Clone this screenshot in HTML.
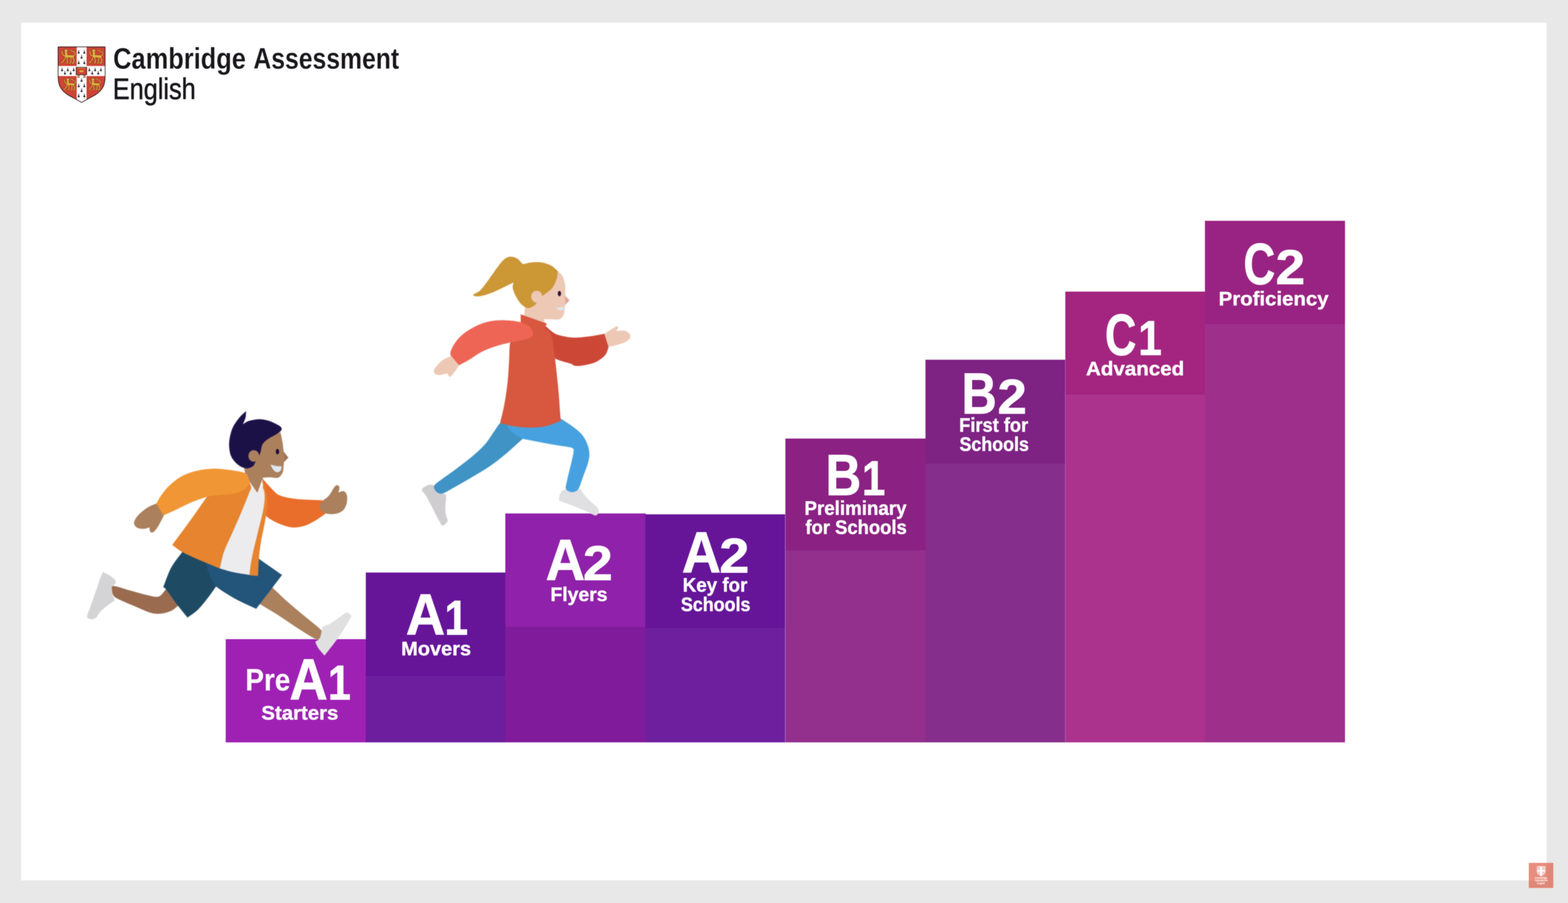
<!DOCTYPE html>
<html lang="en">
<head>
<meta charset="utf-8">
<title>Cambridge Assessment English</title>
<style>
html,body{margin:0;padding:0;width:100%;height:100%;background:#e8e8e8;overflow:hidden;}
svg{position:absolute;left:0;top:0;width:100vw;height:100vh;display:block;font-family:"Liberation Sans",sans-serif;}
text{white-space:pre;}
</style>
</head>
<body>
<svg viewBox="0 0 5120 2880" preserveAspectRatio="none">
<defs>
<filter id="softA" x="0" y="0" width="5120" height="2880" filterUnits="userSpaceOnUse" color-interpolation-filters="sRGB"><feGaussianBlur stdDeviation="1.2"/></filter>
<filter id="softB" x="180" y="760" width="2000" height="1500" filterUnits="userSpaceOnUse" color-interpolation-filters="sRGB"><feGaussianBlur stdDeviation="1.6"/></filter>
<filter id="softC" x="150" y="110" width="1250" height="270" filterUnits="userSpaceOnUse" color-interpolation-filters="sRGB"><feGaussianBlur stdDeviation="1.0"/></filter>
</defs>
<rect x="0" y="0" width="5120" height="2880" fill="#e8e8e8"/>
<g filter="url(#softA)">
<rect x="-20" y="-20" width="5160" height="2920" fill="#e8e8e8"/>
<rect x="69" y="71.8" width="4981.5" height="2736" fill="#ffffff"/>
<g id="bars">
<rect x="737.0" y="2038.5" width="459.0" height="329.2" fill="#9e21b4"/>
<rect x="1194.5" y="2155.0" width="457.0" height="212.7" fill="#6c1e9e"/>
<rect x="1194.5" y="1826.0" width="457.0" height="330.0" fill="#661599"/>
<rect x="1650.0" y="1998.4" width="458.5" height="369.3" fill="#801c9b"/>
<rect x="1650.0" y="1637.6" width="458.5" height="361.8" fill="#9021aa"/>
<rect x="2107.0" y="2002.0" width="459.0" height="365.7" fill="#6e1f9e"/>
<rect x="2107.0" y="1640.4" width="459.0" height="362.6" fill="#661599"/>
<rect x="2564.5" y="1754.4" width="459.0" height="613.3" fill="#93308d"/>
<rect x="2564.5" y="1398.7" width="459.0" height="356.7" fill="#8b2183"/>
<rect x="3022.0" y="1477.4" width="458.0" height="890.3" fill="#862e8c"/>
<rect x="3022.0" y="1147.3" width="458.0" height="331.1" fill="#7e2284"/>
<rect x="3478.5" y="1257.7" width="457.5" height="1110.0" fill="#ab338d"/>
<rect x="3478.5" y="930.0" width="457.5" height="328.7" fill="#a32580"/>
<rect x="3934.5" y="1033.0" width="457.3" height="1334.7" fill="#9e308c"/>
<rect x="3934.5" y="704.2" width="457.3" height="329.8" fill="#992382"/>
<rect x="2563" y="1641" width="2.4" height="726.7" fill="#c07fd0" fill-opacity="0.75"/>
<rect x="3477.3" y="1148" width="2.4" height="1219.7" fill="#c870c0" fill-opacity="0.6"/>
</g>
</g>
<g filter="url(#softB)">
<g id="boy">
<path d="M336.3 1824.2C345.5 1829.1 356.8 1833.8 363.9 1839.0C370.9 1844.2 377.5 1849.9 378.4 1855.2C379.2 1860.5 371.3 1865.3 369.0 1870.8C366.7 1876.2 363.6 1880.5 364.6 1888.0C365.5 1895.5 371.5 1906.4 374.9 1915.6C366.0 1921.4 356.4 1926.8 348.3 1932.9C340.3 1938.9 332.5 1945.5 326.6 1951.9C320.7 1958.2 317.5 1967.0 312.8 1970.8C308.1 1974.7 303.0 1975.5 298.3 1975.0C293.6 1974.4 285.1 1973.8 284.5 1967.4C283.9 1960.9 290.3 1949.6 294.9 1936.3C299.5 1923.1 306.6 1903.5 312.1 1888.0C317.6 1872.5 323.6 1853.8 327.6 1843.2C331.7 1832.5 333.4 1830.5 336.3 1824.2Z" fill="#d4d4d6"/>
<path d="M365.6 1882.8C365.7 1877.7 362.0 1869.0 371.5 1869.0C380.9 1869.0 405.4 1878.2 422.5 1882.8C439.7 1887.4 459.9 1893.2 474.3 1896.6C488.7 1900.1 500.4 1903.1 508.8 1903.5C517.1 1903.9 518.8 1903.1 524.3 1899.1C529.8 1895.0 535.8 1885.9 541.6 1879.4C554.8 1874.2 568.0 1869.0 581.2 1863.9C590.4 1881.1 599.6 1898.4 608.8 1915.6C599.6 1921.1 589.3 1926.9 581.2 1932.2C573.2 1937.5 569.7 1943.2 560.5 1947.4C551.3 1951.5 537.5 1955.9 526.0 1957.0C514.5 1958.2 505.9 1958.2 491.5 1954.3C477.2 1950.4 457.0 1940.7 439.8 1933.6C422.5 1926.4 399.5 1917.1 388.0 1911.5C376.5 1905.9 374.5 1904.9 370.8 1900.1C367.0 1895.3 365.5 1888.0 365.6 1882.8Z" fill="#9a6b4f"/>
<path d="M595.0 1760.4C583.0 1777.0 569.2 1791.7 558.8 1810.4C548.5 1829.1 541.6 1851.8 532.9 1872.5C536.4 1875.4 535.8 1871.9 543.3 1881.1C550.8 1890.3 566.3 1912.9 577.8 1927.7C589.3 1942.5 600.8 1955.8 612.3 1969.8C623.8 1961.2 635.3 1955.0 646.8 1943.9C658.3 1932.9 671.0 1916.6 681.3 1903.5C691.7 1890.5 699.7 1878.2 708.9 1865.6C717.0 1844.3 725.0 1823.0 733.1 1801.8C698.6 1779.9 664.1 1758.1 629.5 1736.2C618.0 1744.2 606.5 1752.3 595.0 1760.4Z" fill="#1f4a63"/>
<path d="M862.2 1850.1C871.9 1858.7 878.3 1864.0 891.5 1875.9C904.7 1887.8 924.6 1906.8 941.5 1921.5C958.5 1936.2 976.0 1949.8 993.3 1963.9C1010.5 1978.0 1035.0 1996.2 1045.0 2006.0C1055.1 2015.8 1053.0 2018.0 1053.7 2022.6C1054.4 2027.2 1052.6 2030.9 1049.2 2033.6C1045.7 2036.4 1045.2 2043.7 1033.0 2039.1C1020.8 2034.5 997.0 2019.0 976.0 2006.0C955.0 1993.0 928.2 1974.4 907.0 1961.2C885.9 1947.9 864.0 1936.0 849.1 1926.7C834.1 1917.3 827.9 1912.4 817.3 1905.3C832.3 1886.9 847.2 1868.5 862.2 1850.1Z" fill="#ab805d"/>
<path d="M1133.0 1953.6C1138.8 1953.5 1143.4 1960.5 1148.6 1963.9C1141.7 1975.7 1136.5 1985.8 1127.9 1999.1C1119.2 2012.5 1108.2 2028.7 1096.8 2044.0C1085.4 2059.3 1072.0 2075.3 1059.5 2090.9C1053.0 2083.3 1044.9 2075.4 1039.9 2068.1C1034.9 2060.9 1033.0 2054.3 1029.5 2047.4C1034.7 2042.8 1041.2 2041.7 1045.0 2033.6C1048.9 2025.6 1050.1 2010.6 1052.6 1999.1C1061.6 1995.4 1069.3 1993.8 1079.5 1988.1C1089.8 1982.3 1105.1 1970.4 1114.1 1964.6C1123.0 1958.9 1127.3 1953.7 1133.0 1953.6Z" fill="#e0e0e1"/>
<path d="M672.6 1791.6C685.2 1785.8 697.9 1780.1 710.5 1774.3C750.8 1769.7 791.0 1765.1 831.3 1760.5C835.9 1767.7 840.5 1774.8 845.1 1781.9C870.4 1799.2 895.7 1816.4 921.0 1833.7C892.8 1869.7 864.7 1905.7 836.5 1941.7C817.5 1933.1 797.1 1924.7 779.5 1915.8C762.0 1906.9 743.9 1896.0 731.2 1888.2C718.6 1880.4 712.8 1875.6 703.6 1869.2C698.5 1860.6 692.4 1852.3 688.1 1843.4C683.8 1834.4 680.3 1824.4 677.8 1815.7C675.2 1807.1 674.3 1799.6 672.6 1791.6Z" fill="#235479"/>
<path d="M857.0 1525.7C866.2 1535.8 875.4 1547.1 884.6 1556.0C893.8 1565.0 899.6 1573.7 912.2 1579.5C924.9 1585.2 943.9 1588.1 960.5 1590.5C977.2 1593.0 996.7 1593.1 1012.3 1594.0C1027.9 1594.9 1040.4 1595.1 1054.4 1595.7C1057.0 1610.1 1059.7 1624.5 1062.3 1638.8C1051.4 1646.0 1040.8 1653.9 1029.5 1660.2C1018.3 1666.6 1007.7 1673.1 995.0 1676.8C982.4 1680.5 967.4 1683.4 953.6 1682.3C939.8 1681.3 923.7 1674.8 912.2 1670.6C900.7 1666.3 892.7 1661.5 884.6 1656.8C876.6 1652.1 870.8 1647.1 863.9 1642.3C861.6 1603.4 859.3 1564.5 857.0 1525.7Z" fill="#e96d2b"/>
<path d="M1053.0 1598.1C1058.0 1593.0 1068.3 1587.2 1074.4 1580.2C1080.6 1573.2 1085.8 1561.5 1089.9 1556.0C1094.1 1550.6 1096.2 1547.9 1099.2 1547.4C1102.3 1546.9 1107.2 1549.4 1108.2 1553.3C1109.3 1557.1 1106.4 1564.8 1105.5 1570.5C1111.2 1569.1 1118.1 1564.7 1122.7 1566.4C1127.3 1568.1 1131.6 1574.0 1133.1 1580.9C1134.5 1587.8 1133.6 1599.9 1131.3 1607.8C1129.0 1615.7 1125.3 1623.3 1119.3 1628.5C1113.2 1633.7 1104.3 1637.3 1095.1 1638.8C1085.9 1640.4 1072.0 1640.0 1064.1 1637.8C1056.1 1635.6 1050.8 1630.2 1047.5 1625.7C1044.2 1621.3 1043.5 1615.8 1044.4 1611.2C1045.3 1606.6 1048.0 1603.3 1053.0 1598.1Z" fill="#ab805d"/>
<path d="M796.6 1493.9C807.6 1487.0 820.5 1483.6 829.4 1473.2C838.3 1462.9 843.2 1443.9 850.1 1431.8C857.0 1419.7 859.9 1409.7 870.8 1400.8C881.8 1391.9 900.7 1385.8 915.7 1378.3C918.0 1389.3 920.9 1400.9 922.6 1411.1C924.3 1421.3 924.9 1430.0 926.0 1439.4C931.2 1446.1 936.4 1452.8 941.6 1459.4C937.1 1464.0 930.7 1468.5 928.1 1473.2C925.5 1477.9 927.0 1482.0 926.0 1487.7C925.1 1493.5 925.6 1501.7 922.6 1507.7C919.6 1513.7 914.9 1521.2 908.1 1523.6C901.3 1526.0 890.1 1522.2 881.9 1522.2C873.6 1522.2 866.5 1523.1 858.8 1523.6C852.7 1539.9 846.6 1556.3 840.5 1572.6C829.3 1556.2 814.3 1536.4 807.0 1523.3C799.7 1510.1 800.1 1503.7 796.6 1493.9Z" fill="#ab805d"/>
<path d="M819.2 1548.3C826.1 1556.0 833.0 1563.7 839.9 1571.5C845.3 1563.7 850.7 1556.0 856.1 1548.3C859.4 1559.3 864.8 1567.6 865.8 1581.1C866.8 1594.6 865.5 1609.9 862.4 1629.4C859.2 1649.0 852.3 1673.7 846.8 1698.4C841.4 1723.2 833.3 1755.0 829.6 1777.8C825.8 1800.6 826.1 1816.0 824.4 1835.1C803.7 1831.7 780.1 1828.7 762.3 1825.1C744.5 1821.4 732.4 1817.0 717.4 1813.0C722.0 1795.5 723.8 1780.8 731.2 1760.5C738.7 1740.3 752.5 1713.4 762.3 1691.5C772.1 1669.7 781.3 1649.6 789.9 1629.4C798.5 1609.3 809.2 1584.3 814.1 1570.8C818.9 1557.3 817.5 1555.8 819.2 1548.3Z" fill="#ececee"/>
<path d="M856.1 1532.8C859.4 1539.7 862.9 1541.4 865.8 1553.5C868.7 1565.6 873.3 1588.0 873.4 1605.3C873.5 1622.5 869.9 1636.9 866.5 1657.0C863.0 1677.2 856.1 1705.9 852.7 1726.0C849.2 1746.2 847.5 1759.3 845.8 1777.8C844.1 1796.3 843.5 1817.4 842.3 1837.1C832.9 1836.2 823.5 1835.3 814.1 1834.4C816.9 1815.5 818.1 1800.4 822.7 1777.8C827.3 1755.1 835.6 1723.2 841.7 1698.4C847.7 1673.7 855.2 1649.0 858.9 1629.4C862.6 1609.9 864.5 1597.2 864.1 1581.1C863.6 1565.0 858.8 1548.9 856.1 1532.8Z" fill="#e6842f"/>
<path d="M676.0 1583.9C693.3 1573.8 707.1 1566.0 727.8 1553.5C748.5 1541.0 776.1 1523.6 800.3 1508.7C806.6 1522.5 816.9 1539.7 819.2 1550.1C821.5 1560.4 818.9 1557.5 814.1 1570.8C809.2 1584.0 798.5 1609.3 789.9 1629.4C781.3 1649.6 772.1 1669.7 762.3 1691.5C752.5 1713.4 738.7 1740.3 731.2 1760.5C723.8 1780.8 722.0 1795.5 717.4 1813.0C692.1 1802.6 662.2 1790.8 641.5 1781.9C620.8 1773.0 606.5 1766.8 593.2 1759.5C580.0 1752.2 572.5 1745.2 562.2 1738.1C581.7 1712.2 601.9 1686.2 620.8 1660.5C639.8 1634.8 657.6 1609.4 676.0 1583.9Z" fill="#e6842f"/>
<path d="M524.2 1601.8C512.7 1606.0 500.1 1609.1 489.7 1614.2C479.4 1619.4 469.9 1626.3 462.1 1632.9C454.3 1639.4 447.2 1647.3 443.1 1653.6C439.1 1659.9 437.1 1665.9 438.0 1670.8C438.8 1675.8 443.1 1680.6 448.3 1683.2C453.5 1685.9 462.4 1686.9 469.0 1686.7C475.6 1686.5 481.7 1683.5 488.0 1681.9C488.8 1686.5 488.3 1693.1 490.4 1695.7C492.5 1698.2 496.7 1699.5 500.8 1697.1C504.8 1694.6 510.0 1687.9 514.6 1681.2C519.2 1674.5 524.9 1663.4 528.4 1657.0C531.8 1650.7 533.1 1647.8 535.3 1643.2C537.4 1638.6 539.4 1634.0 541.5 1629.4C535.7 1620.2 530.0 1611.0 524.2 1601.8Z" fill="#ab805d"/>
<path d="M800.3 1508.7C789.2 1504.3 762.9 1500.6 745.0 1498.3C727.2 1496.0 710.5 1494.3 693.3 1494.9C676.0 1495.4 658.2 1497.7 641.5 1501.8C624.9 1505.8 607.6 1511.5 593.2 1519.0C578.8 1526.5 566.2 1536.8 555.3 1546.6C544.3 1556.4 535.1 1567.8 527.7 1577.7C520.2 1587.6 516.2 1596.5 510.4 1606.0C518.1 1618.6 525.8 1631.3 533.5 1643.9C546.5 1638.2 557.4 1633.6 572.5 1626.7C587.6 1619.8 607.0 1609.5 624.3 1602.5C641.5 1595.5 662.8 1588.4 676.0 1584.6C689.3 1580.8 695.0 1580.8 703.6 1579.7C712.3 1578.6 719.7 1578.6 727.8 1578.0C735.8 1577.4 743.6 1577.5 751.9 1576.3C760.3 1575.1 769.2 1574.1 777.8 1570.8C786.4 1567.4 797.5 1561.4 803.7 1556.3C809.9 1551.1 813.5 1545.1 814.7 1539.7C816.0 1534.4 813.7 1529.4 811.3 1524.2C808.9 1519.0 811.3 1513.0 800.3 1508.7Z" fill="#f09634"/>
<path d="M803.5 1311.1C796.1 1318.2 788.3 1323.8 781.1 1332.4C773.9 1341.1 765.6 1352.0 760.4 1362.8C755.2 1373.6 752.1 1387.0 750.1 1397.3C748.0 1407.7 747.8 1415.7 748.3 1424.9C748.9 1434.1 750.4 1444.5 753.5 1452.5C756.7 1460.6 761.6 1467.1 767.3 1473.2C773.1 1479.3 781.1 1485.6 788.0 1489.1C794.9 1492.5 802.3 1494.4 808.7 1493.9C815.2 1493.5 822.9 1488.9 826.7 1486.3C830.4 1483.7 829.7 1481.0 831.1 1478.4C835.2 1472.1 839.9 1465.5 843.2 1459.4C846.5 1453.4 848.3 1447.9 850.8 1442.2C852.9 1434.1 853.1 1424.9 857.0 1418.0C860.9 1411.1 866.5 1406.4 874.3 1400.8C882.0 1395.1 896.6 1388.5 903.6 1384.2C910.6 1379.9 913.7 1377.8 916.4 1374.9C919.1 1372.0 920.1 1369.4 919.8 1367.0C919.6 1364.5 917.4 1362.2 915.0 1360.1C912.6 1357.9 911.5 1357.2 905.3 1354.2C899.1 1351.2 887.5 1345.0 877.7 1342.1C868.0 1339.2 857.6 1336.8 846.7 1336.9C835.7 1337.0 821.1 1340.1 812.2 1342.8C803.3 1345.5 799.5 1349.7 793.2 1353.1C796.1 1346.0 800.1 1338.8 801.8 1331.8C803.5 1324.7 803.0 1318.0 803.5 1311.1Z" fill="#1c1147"/>
<ellipse cx="828.7" cy="1454.2" rx="17.5" ry="18.5" fill="#ab805d"/>
<path d="M926.7 1442.2C931.7 1447.9 936.6 1453.7 941.6 1459.4C937.3 1463.8 933.1 1468.2 928.8 1472.5C928.1 1462.4 927.4 1452.3 926.7 1442.2Z" fill="#a0735a"/>
<ellipse cx="906.0" cy="1440.4" rx="5.4" ry="8.6" fill="#1a0c33"/>
<path d="M882.9 1481.2C889.2 1482.9 895.7 1485.4 901.9 1486.3C908.0 1487.3 913.8 1486.8 919.8 1487.0C918.7 1491.6 919.0 1497.6 916.4 1500.8C913.8 1504.0 908.3 1506.8 904.3 1506.3C900.3 1505.9 895.8 1502.3 892.2 1498.1C888.7 1493.9 886.0 1486.8 882.9 1481.2Z" fill="#dfe8ec"/>
</g>
<g id="girl">
<path d="M1377.6 1562.2C1377.6 1556.9 1386.3 1552.5 1391.4 1549.8C1396.5 1547.0 1403.4 1545.5 1408.0 1545.6C1412.6 1545.8 1416.6 1547.9 1419.0 1550.6C1421.4 1553.4 1420.0 1558.7 1422.3 1562.2C1424.6 1565.8 1427.3 1569.6 1432.8 1571.9C1438.3 1574.2 1447.9 1574.6 1455.4 1576.0C1455.9 1580.6 1457.0 1582.9 1456.8 1589.8C1456.6 1596.7 1454.1 1608.2 1454.1 1617.4C1454.1 1626.6 1455.5 1638.1 1456.8 1645.0C1458.1 1651.9 1462.0 1654.7 1461.8 1658.8C1461.6 1663.0 1458.4 1667.0 1455.4 1669.9C1452.4 1672.7 1447.6 1677.8 1443.8 1675.9C1440.1 1674.1 1438.3 1668.6 1432.8 1658.8C1427.3 1649.1 1417.6 1630.3 1410.7 1617.4C1403.8 1604.5 1396.9 1590.7 1391.4 1581.5C1385.9 1572.3 1377.6 1567.5 1377.6 1562.2Z" fill="#cfcdd0"/>
<path d="M1659.1 1327.6C1650.3 1335.0 1640.5 1341.3 1632.6 1349.7C1624.8 1358.1 1620.2 1366.8 1612.2 1377.8C1604.2 1388.9 1596.1 1403.1 1584.6 1415.9C1573.1 1428.7 1559.3 1441.1 1543.2 1454.6C1527.1 1468.0 1505.0 1484.0 1488.0 1496.5C1471.0 1509.0 1452.7 1521.0 1441.1 1529.6C1429.4 1538.3 1421.6 1542.9 1418.2 1548.4C1414.7 1553.9 1418.3 1558.8 1420.4 1562.8C1422.5 1566.7 1426.1 1570.4 1430.6 1572.1C1435.1 1573.9 1437.6 1576.7 1447.2 1573.2C1456.7 1569.8 1472.0 1560.5 1488.0 1551.7C1504.0 1543.0 1524.8 1531.5 1543.2 1520.8C1561.6 1510.1 1582.3 1498.3 1598.4 1487.7C1614.5 1477.1 1626.9 1467.4 1639.8 1457.3C1652.7 1447.2 1664.6 1436.5 1675.7 1427.0C1686.7 1417.4 1695.9 1408.9 1706.1 1399.9C1716.2 1385.0 1726.3 1370.1 1736.4 1355.2C1710.7 1346.0 1684.9 1336.8 1659.1 1327.6Z" fill="#3f93c5"/>
<path d="M1835.8 1565.0C1839.6 1561.7 1844.5 1561.5 1849.6 1562.2C1854.6 1562.9 1860.6 1568.9 1866.1 1569.4C1871.7 1569.8 1877.8 1566.9 1882.7 1565.0C1887.6 1563.1 1891.3 1560.4 1895.7 1558.1C1897.8 1562.2 1897.3 1564.3 1902.0 1570.5C1906.8 1576.7 1915.8 1587.0 1924.1 1595.3C1932.4 1603.6 1946.7 1613.7 1951.7 1620.2C1956.7 1626.6 1955.2 1630.0 1953.9 1634.0C1952.6 1637.9 1950.3 1644.4 1944.0 1643.9C1937.6 1643.4 1927.4 1636.1 1915.8 1631.2C1904.2 1626.3 1889.5 1620.4 1874.4 1614.6C1859.3 1608.9 1841.7 1602.9 1825.3 1597.0C1825.7 1591.8 1824.6 1586.9 1826.4 1581.5C1828.1 1576.2 1831.9 1568.2 1835.8 1565.0Z" fill="#e0dfe1"/>
<path d="M1656.4 1355.2C1715.3 1348.8 1774.1 1342.3 1833.0 1335.9C1846.8 1345.1 1862.9 1354.7 1874.4 1363.5C1885.9 1372.2 1894.7 1379.1 1902.0 1388.3C1909.4 1397.5 1914.8 1408.6 1918.6 1418.7C1922.3 1428.8 1924.6 1438.9 1924.6 1449.0C1924.7 1459.2 1922.4 1467.9 1919.1 1479.4C1915.8 1490.9 1909.4 1505.6 1904.8 1518.0C1900.2 1530.5 1895.2 1546.0 1891.5 1553.9C1887.8 1561.8 1886.9 1562.9 1882.7 1565.5C1878.5 1568.1 1871.6 1570.1 1866.1 1569.7C1860.7 1569.2 1853.3 1565.4 1850.1 1562.8C1846.9 1560.1 1847.9 1556.9 1846.8 1553.9C1849.8 1541.0 1852.3 1529.1 1855.6 1515.3C1859.0 1501.5 1863.7 1484.0 1866.7 1471.1C1869.6 1458.2 1872.9 1445.0 1873.3 1438.0C1873.7 1431.0 1871.9 1431.2 1868.9 1429.2C1865.9 1427.1 1863.4 1427.1 1855.1 1425.6C1846.8 1424.1 1834.4 1422.6 1819.2 1420.1C1804.0 1417.5 1782.4 1413.8 1764.0 1410.4C1745.6 1407.0 1727.2 1403.4 1708.8 1399.9C1699.6 1395.1 1689.0 1390.9 1681.2 1385.6C1673.4 1380.2 1666.0 1372.7 1661.9 1367.6C1657.7 1362.6 1658.2 1359.3 1656.4 1355.2Z" fill="#47a1e0"/>
<path d="M1965.8 1069.8C1976.1 1063.2 1988.8 1054.6 1996.8 1049.8C2004.9 1045.0 2010.5 1041.4 2014.1 1040.8C2017.7 1040.3 2018.7 1043.8 2018.2 1046.4C2017.8 1048.9 2013.6 1052.8 2011.3 1056.0C2020.3 1055.4 2030.9 1052.9 2038.2 1054.3C2045.6 1055.7 2052.3 1060.9 2055.5 1064.6C2058.7 1068.4 2059.3 1072.6 2057.6 1076.7C2055.8 1080.8 2051.8 1085.3 2045.1 1089.1C2038.5 1092.9 2026.2 1096.8 2017.5 1099.5C2008.9 1102.1 2000.3 1103.9 1993.4 1105.0C1986.5 1106.1 1981.9 1105.7 1976.1 1106.0C1972.7 1094.0 1969.2 1081.9 1965.8 1069.8Z" fill="#edc8b5"/>
<path d="M1776.0 1035.3C1787.5 1044.5 1799.0 1056.6 1810.5 1062.9C1822.0 1069.2 1833.5 1071.0 1845.0 1073.3C1856.5 1075.6 1865.2 1077.0 1879.5 1076.7C1893.9 1076.5 1915.6 1073.9 1931.3 1071.9C1946.9 1069.9 1959.3 1067.1 1973.4 1064.6C1978.0 1079.0 1982.6 1093.4 1987.2 1107.8C1983.5 1116.1 1982.6 1125.0 1976.1 1132.6C1969.7 1140.2 1958.9 1148.1 1948.5 1153.3C1938.2 1158.5 1925.5 1161.4 1914.0 1163.7C1902.5 1166.0 1888.2 1167.8 1879.5 1167.1C1870.9 1166.4 1872.6 1163.1 1862.3 1159.5C1851.9 1156.0 1828.9 1151.5 1817.4 1145.7C1805.9 1140.0 1801.3 1131.9 1793.3 1125.0C1787.5 1095.1 1781.8 1065.2 1776.0 1035.3Z" fill="#cd4737"/>
<path d="M1713.9 973.2C1723.1 970.9 1731.2 972.6 1741.5 966.3C1751.9 960.0 1765.7 944.5 1776.0 935.3C1786.4 926.1 1796.1 922.9 1803.6 911.1C1811.1 899.3 1815.1 880.1 1820.9 864.5C1826.0 869.7 1832.4 872.9 1836.4 880.1C1840.4 887.2 1843.5 897.3 1845.0 907.7C1846.6 918.0 1845.5 930.7 1845.7 942.2C1850.3 947.3 1854.9 952.5 1859.5 957.7C1854.9 962.9 1848.4 968.3 1845.7 973.2C1843.1 978.1 1844.6 981.8 1843.6 987.0C1842.7 992.2 1842.8 999.1 1840.2 1004.3C1837.6 1009.4 1833.9 1015.7 1827.8 1018.1C1821.7 1020.5 1812.2 1018.8 1803.6 1018.8C1795.0 1018.8 1785.2 1018.3 1776.0 1018.1C1778.3 1026.1 1780.6 1034.2 1782.9 1042.2C1758.8 1037.6 1734.6 1033.0 1710.5 1028.4C1711.6 1010.0 1712.8 991.6 1713.9 973.2Z" fill="#edc8b5"/>
<path d="M1700.2 1002.4C1728.6 1012.2 1757.0 1022.0 1785.4 1031.8C1783.1 1037.2 1780.8 1042.6 1778.5 1048.0C1785.2 1054.1 1793.5 1054.6 1798.5 1066.3C1803.6 1077.9 1805.7 1097.9 1808.9 1118.0C1812.0 1138.1 1814.9 1164.0 1817.5 1187.0C1820.1 1210.0 1822.4 1233.0 1824.4 1256.0C1826.4 1279.0 1828.4 1310.6 1829.6 1325.0C1830.8 1339.4 1831.0 1336.5 1831.7 1342.3C1814.9 1348.0 1798.3 1356.0 1781.3 1359.5C1764.3 1363.1 1746.8 1363.7 1729.5 1363.7C1712.3 1363.7 1693.9 1361.9 1677.8 1359.5C1661.7 1357.1 1647.9 1352.6 1632.9 1349.2C1637.5 1329.6 1642.7 1311.8 1646.7 1290.5C1650.7 1269.2 1654.5 1244.5 1657.1 1221.5C1659.7 1198.5 1660.8 1173.8 1662.2 1152.5C1663.7 1131.2 1662.5 1108.8 1665.7 1093.9C1668.9 1078.9 1675.5 1070.3 1681.2 1062.8C1687.0 1055.3 1693.9 1053.6 1700.2 1049.0C1700.2 1033.5 1700.2 1018.0 1700.2 1002.4Z" fill="#d7573f"/>
<path d="M1484.6 1131.8C1473.1 1136.4 1459.3 1140.4 1450.1 1145.6C1440.9 1150.8 1434.8 1157.1 1429.4 1162.9C1423.9 1168.6 1418.7 1175.2 1417.3 1180.1C1415.8 1185.1 1417.6 1189.9 1420.7 1192.5C1423.9 1195.2 1429.6 1196.3 1436.3 1196.0C1442.9 1195.6 1452.4 1192.3 1460.4 1190.5C1462.9 1194.1 1465.4 1200.6 1468.0 1201.5C1470.6 1202.4 1472.4 1200.1 1476.3 1196.0C1480.2 1191.8 1487.7 1182.0 1491.5 1176.7C1495.3 1171.4 1496.5 1168.6 1499.1 1164.2C1501.6 1159.9 1504.3 1155.3 1507.0 1150.8C1499.5 1144.5 1492.0 1138.1 1484.6 1131.8Z" fill="#edc8b5"/>
<path d="M1740.6 1062.8C1739.9 1057.3 1737.1 1048.1 1729.5 1042.1C1721.9 1036.1 1708.8 1030.0 1695.0 1026.6C1681.2 1023.1 1662.8 1021.7 1646.7 1021.4C1630.6 1021.1 1613.4 1022.0 1598.4 1024.9C1583.5 1027.7 1570.8 1032.3 1557.0 1038.7C1543.2 1045.0 1527.1 1054.2 1515.6 1062.8C1504.1 1071.4 1495.2 1081.2 1488.0 1090.4C1480.8 1099.6 1475.4 1111.0 1472.5 1118.0C1469.6 1125.0 1471.3 1127.7 1470.8 1132.5C1480.2 1143.3 1489.6 1154.1 1499.1 1164.9C1509.2 1159.6 1516.9 1156.3 1529.4 1149.1C1541.9 1141.8 1559.3 1128.9 1574.3 1121.5C1589.2 1114.0 1603.6 1109.1 1619.1 1104.2C1634.6 1099.3 1651.9 1095.6 1667.4 1092.1C1682.9 1088.7 1701.2 1086.4 1712.3 1083.5C1723.3 1080.6 1729.0 1078.3 1733.7 1074.9C1738.4 1071.4 1741.3 1068.3 1740.6 1062.8Z" fill="#ee6556"/>
<path d="M1543.1 940.8C1551.8 935.5 1560.1 933.3 1569.0 924.9C1577.9 916.5 1587.4 902.5 1596.6 890.4C1605.8 878.3 1616.2 862.8 1624.2 852.5C1632.3 842.1 1638.0 833.9 1644.9 828.3C1651.8 822.7 1658.4 819.3 1665.6 818.6C1672.8 818.0 1682.0 821.1 1688.0 824.2C1694.1 827.2 1698.6 833.9 1701.8 836.9C1705.1 839.9 1705.4 841.5 1707.7 842.1C1710.0 842.7 1711.2 841.6 1715.6 840.7C1720.1 839.9 1725.7 837.6 1734.6 836.9C1743.5 836.3 1758.2 835.2 1769.1 836.9C1780.0 838.7 1791.4 842.7 1800.2 847.3C1808.9 851.9 1814.4 858.8 1821.6 864.5C1820.2 873.2 1820.4 881.5 1817.4 890.4C1814.4 899.3 1809.4 910.5 1803.6 918.0C1797.9 925.5 1788.1 931.1 1782.9 935.3C1777.7 939.4 1776.0 940.3 1772.6 942.9C1766.8 948.4 1759.2 954.6 1755.3 959.4C1751.4 964.2 1751.2 967.5 1749.1 971.5C1744.3 974.4 1739.3 978.3 1734.6 980.1C1729.9 981.9 1726.6 984.2 1720.8 982.2C1715.1 980.2 1706.4 974.7 1700.1 968.0C1693.8 961.4 1687.2 950.5 1682.9 942.2C1678.6 933.8 1675.3 924.9 1674.2 918.0C1673.2 911.1 1675.8 906.5 1676.7 900.8C1667.2 905.4 1658.8 909.6 1648.4 914.6C1637.9 919.5 1625.4 925.8 1613.9 930.4C1602.4 935.0 1589.1 939.7 1579.4 942.2C1569.6 944.6 1561.2 945.5 1555.2 945.3C1549.2 945.0 1547.2 942.3 1543.1 940.8Z" fill="#cc9735"/>
<ellipse cx="1752.6" cy="946.3" rx="18" ry="19" fill="#edc8b5"/>
<path d="M1845.0 944.9C1849.9 949.2 1854.7 953.4 1859.5 957.7C1855.1 962.4 1850.8 967.1 1846.4 971.8C1845.9 962.9 1845.5 953.9 1845.0 944.9Z" fill="#e4a596"/>
<ellipse cx="1826.7" cy="936.3" rx="5.4" ry="8.4" fill="#2a1038"/>
<path d="M1816.4 980.1C1820.8 980.3 1825.3 981.2 1829.5 980.8C1833.7 980.4 1837.6 978.7 1841.6 977.7C1840.9 980.6 1841.2 984.2 1839.5 986.3C1837.8 988.5 1834.1 990.2 1831.2 990.5C1828.3 990.7 1824.7 989.4 1822.3 987.7C1819.8 986.0 1818.3 982.6 1816.4 980.1Z" fill="#dde5f0"/>
</g>
</g>
<g filter="url(#softA)">
<g id="labels">
<text font-weight="bold" fill="#fff" stroke="#fff" stroke-width="2"><tspan stroke-width="0.5" x="801.3" y="2202.5" font-size="99.0" textLength="146.5" lengthAdjust="spacingAndGlyphs">Pre</tspan> <tspan x="945.1" y="2230.7" font-size="186.0" textLength="125.1" lengthAdjust="spacingAndGlyphs">A</tspan><tspan x="1071.2" y="2230.7" font-size="156.0" textLength="74.3" lengthAdjust="spacingAndGlyphs">1</tspan></text>
<text stroke="#fff" stroke-width="1.2" x="853.6" y="2295.5" font-size="63.0" textLength="251.1" lengthAdjust="spacingAndGlyphs" font-weight="bold" fill="#fff">Starters</text>
<text font-weight="bold" fill="#fff" stroke="#fff" stroke-width="2"><tspan x="1325.2" y="2023.7" font-size="186.0" textLength="128.1" lengthAdjust="spacingAndGlyphs">A</tspan><tspan x="1451.7" y="2023.7" font-size="156.0" textLength="76.5" lengthAdjust="spacingAndGlyphs">1</tspan></text>
<text stroke="#fff" stroke-width="1.2" x="1310.0" y="2090.4" font-size="63.0" textLength="228.1" lengthAdjust="spacingAndGlyphs" font-weight="bold" fill="#fff">Movers</text>
<text font-weight="bold" fill="#fff" stroke="#fff" stroke-width="2"><tspan x="1781.5" y="1850.3" font-size="186.0" textLength="129.0" lengthAdjust="spacingAndGlyphs">A</tspan><tspan x="1903.6" y="1850.3" font-size="156.0" textLength="97.0" lengthAdjust="spacingAndGlyphs">2</tspan></text>
<text stroke="#fff" stroke-width="1.2" x="1797.4" y="1917.2" font-size="63.0" textLength="186.2" lengthAdjust="spacingAndGlyphs" font-weight="bold" fill="#fff">Flyers</text>
<text font-weight="bold" fill="#fff" stroke="#fff" stroke-width="2"><tspan x="2226.4" y="1826.2" font-size="186.0" textLength="127.9" lengthAdjust="spacingAndGlyphs">A</tspan><tspan x="2348.7" y="1826.2" font-size="156.0" textLength="97.8" lengthAdjust="spacingAndGlyphs">2</tspan></text>
<text stroke="#fff" stroke-width="1.2" x="2229.3" y="1887.0" font-size="63.0" textLength="211.1" lengthAdjust="spacingAndGlyphs" font-weight="bold" fill="#fff">Key for</text>
<text stroke="#fff" stroke-width="1.2" x="2223.3" y="1948.6" font-size="63.0" textLength="227.1" lengthAdjust="spacingAndGlyphs" font-weight="bold" fill="#fff">Schools</text>
<text font-weight="bold" fill="#fff" stroke="#fff" stroke-width="2"><tspan x="2695.8" y="1579.4" font-size="186.0" textLength="116.5" lengthAdjust="spacingAndGlyphs">B</tspan><tspan x="2814.7" y="1579.4" font-size="156.0" textLength="76.1" lengthAdjust="spacingAndGlyphs">1</tspan></text>
<text stroke="#fff" stroke-width="1.2" x="2626.9" y="1641.8" font-size="63.0" textLength="333.1" lengthAdjust="spacingAndGlyphs" font-weight="bold" fill="#fff">Preliminary</text>
<text stroke="#fff" stroke-width="1.2" x="2630.0" y="1703.4" font-size="63.0" textLength="330.9" lengthAdjust="spacingAndGlyphs" font-weight="bold" fill="#fff">for Schools</text>
<text font-weight="bold" fill="#fff" stroke="#fff" stroke-width="2"><tspan x="3139.9" y="1318.9" font-size="186.0" textLength="114.9" lengthAdjust="spacingAndGlyphs">B</tspan><tspan x="3257.4" y="1318.9" font-size="156.0" textLength="95.4" lengthAdjust="spacingAndGlyphs">2</tspan></text>
<text stroke="#fff" stroke-width="1.2" x="3132.0" y="1377.3" font-size="63.0" textLength="225.3" lengthAdjust="spacingAndGlyphs" font-weight="bold" fill="#fff">First for</text>
<text stroke="#fff" stroke-width="1.2" x="3133.1" y="1438.5" font-size="63.0" textLength="226.5" lengthAdjust="spacingAndGlyphs" font-weight="bold" fill="#fff">Schools</text>
<text font-weight="bold" fill="#fff" stroke="#fff" stroke-width="2"><tspan x="3608.2" y="1132.5" font-size="186.0" textLength="102.3" lengthAdjust="spacingAndGlyphs">C</tspan><tspan x="3716.8" y="1132.0" font-size="156.0" textLength="76.8" lengthAdjust="spacingAndGlyphs">1</tspan></text>
<text stroke="#fff" stroke-width="1.2" x="3546.0" y="1196.7" font-size="63.0" textLength="320.8" lengthAdjust="spacingAndGlyphs" font-weight="bold" fill="#fff">Advanced</text>
<text font-weight="bold" fill="#fff" stroke="#fff" stroke-width="2"><tspan x="4060.5" y="906.0" font-size="186.0" textLength="103.4" lengthAdjust="spacingAndGlyphs">C</tspan><tspan x="4165.3" y="906.0" font-size="156.0" textLength="96.1" lengthAdjust="spacingAndGlyphs">2</tspan></text>
<text stroke="#fff" stroke-width="1.2" x="3979.3" y="974.0" font-size="63.0" textLength="358.9" lengthAdjust="spacingAndGlyphs" font-weight="bold" fill="#fff">Proficiency</text>
</g>
<g id="watermark">
<rect x="4992" y="2752" width="80" height="80" fill="#dc553e" fill-opacity="0.667"/>
<path d="M5018.8 2763.1C5027.8 2763.1 5036.7 2763.1 5045.6 2763.1C5045.6 2768.5 5045.8 2775.7 5045.6 2779.4C5045.4 2783.1 5045.2 2783.5 5044.2 2785.2C5043.3 2786.9 5041.8 2788.2 5039.8 2789.7C5037.8 2791.2 5034.7 2792.8 5032.2 2794.3C5029.7 2792.8 5026.6 2791.2 5024.6 2789.7C5022.6 2788.2 5021.2 2786.9 5020.2 2785.2C5019.2 2783.5 5019.1 2783.1 5018.8 2779.4C5018.6 2775.7 5018.8 2768.5 5018.8 2763.1Z" fill="#fff" fill-opacity="0.55" stroke="#fff" stroke-width="0.8"/>
<rect x="5029.04" y="2763.09" width="6.35" height="31.19" fill="#fff"/>
<rect x="5018.83" y="2774.96" width="26.78" height="4.69" fill="#fff"/>
<text stroke="#fff" stroke-width="0.25" x="5012.1" y="2802.8" font-size="8.6" textLength="40.1" lengthAdjust="spacingAndGlyphs" font-weight="normal" fill="#ffffff">Cambridge</text>
<text stroke="#fff" stroke-width="0.25" x="5011.1" y="2811.1" font-size="8.6" textLength="42.3" lengthAdjust="spacingAndGlyphs" font-weight="normal" fill="#ffffff">Assessment</text>
<text stroke="#fff" stroke-width="0.25" x="5019.0" y="2819.8" font-size="8.6" textLength="25.7" lengthAdjust="spacingAndGlyphs" font-weight="normal" fill="#ffffff">English</text>
</g>
</g>
<g filter="url(#softC)">
<g id="logo">
<path d="M189.9 149.6C241.0 149.6 292.1 149.6 343.2 149.6C343.2 167.2 343.2 186.9 343.2 202.5C343.2 218.0 343.4 233.4 343.2 243.0C343.0 252.7 342.9 254.9 341.9 260.4C340.8 266.0 339.5 271.4 337.0 276.4C334.4 281.4 330.9 286.2 326.5 290.6C322.2 295.0 317.2 298.7 310.9 302.8C304.5 306.8 295.9 310.7 288.6 314.6C281.2 318.6 273.9 322.7 266.5 326.7C259.2 322.7 251.9 318.6 244.5 314.6C237.1 310.7 228.5 306.8 222.2 302.8C215.8 298.7 210.9 295.0 206.5 290.6C202.2 286.2 198.6 281.4 196.1 276.4C193.5 271.4 192.2 266.0 191.2 260.4C190.1 254.9 190.1 252.7 189.9 243.0C189.6 233.4 189.9 218.0 189.9 202.5C189.9 186.9 189.9 167.2 189.9 149.6Z" fill="#cf4335" stroke="#2d1a1e" stroke-width="1.9" stroke-linejoin="round"/>
<clipPath id="shc"><path d="M189.9 149.6C241.0 149.6 292.1 149.6 343.2 149.6C343.2 167.2 343.2 186.9 343.2 202.5C343.2 218.0 343.4 233.4 343.2 243.0C343.0 252.7 342.9 254.9 341.9 260.4C340.8 266.0 339.5 271.4 337.0 276.4C334.4 281.4 330.9 286.2 326.5 290.6C322.2 295.0 317.2 298.7 310.9 302.8C304.5 306.8 295.9 310.7 288.6 314.6C281.2 318.6 273.9 322.7 266.5 326.7C259.2 322.7 251.9 318.6 244.5 314.6C237.1 310.7 228.5 306.8 222.2 302.8C215.8 298.7 210.9 295.0 206.5 290.6C202.2 286.2 198.6 281.4 196.1 276.4C193.5 271.4 192.2 266.0 191.2 260.4C190.1 254.9 190.1 252.7 189.9 243.0C189.6 233.4 189.9 218.0 189.9 202.5C189.9 186.9 189.9 167.2 189.9 149.6Z"/></clipPath>
<g clip-path="url(#shc)">
<rect x="250.43" y="149.57" width="32.17" height="177.10" fill="#fdfdfd"/>
<rect x="189.86" y="210.43" width="153.33" height="32.17" fill="#fdfdfd"/>
</g>
<path d="M189.9 149.6C241.0 149.6 292.1 149.6 343.2 149.6C343.2 167.2 343.2 186.9 343.2 202.5C343.2 218.0 343.4 233.4 343.2 243.0C343.0 252.7 342.9 254.9 341.9 260.4C340.8 266.0 339.5 271.4 337.0 276.4C334.4 281.4 330.9 286.2 326.5 290.6C322.2 295.0 317.2 298.7 310.9 302.8C304.5 306.8 295.9 310.7 288.6 314.6C281.2 318.6 273.9 322.7 266.5 326.7C259.2 322.7 251.9 318.6 244.5 314.6C237.1 310.7 228.5 306.8 222.2 302.8C215.8 298.7 210.9 295.0 206.5 290.6C202.2 286.2 198.6 281.4 196.1 276.4C193.5 271.4 192.2 266.0 191.2 260.4C190.1 254.9 190.1 252.7 189.9 243.0C189.6 233.4 189.9 218.0 189.9 202.5C189.9 186.9 189.9 167.2 189.9 149.6Z" fill="none" stroke="#2d1a1e" stroke-width="2.0" stroke-linejoin="round"/>
<g clip-path="url(#shc)">
<g transform="translate(220.72 180.72) scale(0.5600) translate(-50 -50)" stroke-linecap="round" stroke-linejoin="round" fill="none"><path d="M41 47 L80 49" stroke="#6e2c16" stroke-width="17.4"/><path d="M41 30 L42 46" stroke="#6e2c16" stroke-width="16.4"/><path d="M37 45 C27 48 20 38 17 19" stroke="#6e2c16" stroke-width="8.9"/><path d="M38 55 L22 80 L14 84" stroke="#6e2c16" stroke-width="8.9"/><path d="M47 54 L50 84 L43 86" stroke="#6e2c16" stroke-width="8.9"/><path d="M78 52 L88 68 L85 85 L78 87" stroke="#6e2c16" stroke-width="9.4"/><path d="M70 55 L68 85 L61 87" stroke="#6e2c16" stroke-width="8.9"/><path d="M85 46 C97 40 96 24 84 22 C74 20 72 12 62 12" stroke="#6e2c16" stroke-width="8.0"/><circle cx="41" cy="24" r="10.4" fill="#6e2c16"/><path d="M32 17 L34 7 L38 13 L41 5 L44 13 L48 7 L50 17 Z" fill="#6e2c16" stroke="#6e2c16" stroke-width="3.4"/><path d="M41 47 L80 49" stroke="#dcb63f" stroke-width="14"/><path d="M41 30 L42 46" stroke="#dcb63f" stroke-width="13"/><path d="M37 45 C27 48 20 38 17 19" stroke="#dcb63f" stroke-width="5.5"/><path d="M38 55 L22 80 L14 84" stroke="#dcb63f" stroke-width="5.5"/><path d="M47 54 L50 84 L43 86" stroke="#dcb63f" stroke-width="5.5"/><path d="M78 52 L88 68 L85 85 L78 87" stroke="#dcb63f" stroke-width="6"/><path d="M70 55 L68 85 L61 87" stroke="#dcb63f" stroke-width="5.5"/><path d="M85 46 C97 40 96 24 84 22 C74 20 72 12 62 12" stroke="#dcb63f" stroke-width="4.6"/><circle cx="41" cy="24" r="8.6" fill="#dcb63f"/><path d="M32 17 L34 7 L38 13 L41 5 L44 13 L48 7 L50 17 Z" fill="#e8cf6a"/><circle cx="37.6" cy="23" r="1.7" fill="#5a3a12"/><circle cx="44.4" cy="23" r="1.7" fill="#5a3a12"/></g>
<g transform="translate(311.30 180.72) scale(0.5600) translate(-50 -50)" stroke-linecap="round" stroke-linejoin="round" fill="none"><path d="M41 47 L80 49" stroke="#6e2c16" stroke-width="17.4"/><path d="M41 30 L42 46" stroke="#6e2c16" stroke-width="16.4"/><path d="M37 45 C27 48 20 38 17 19" stroke="#6e2c16" stroke-width="8.9"/><path d="M38 55 L22 80 L14 84" stroke="#6e2c16" stroke-width="8.9"/><path d="M47 54 L50 84 L43 86" stroke="#6e2c16" stroke-width="8.9"/><path d="M78 52 L88 68 L85 85 L78 87" stroke="#6e2c16" stroke-width="9.4"/><path d="M70 55 L68 85 L61 87" stroke="#6e2c16" stroke-width="8.9"/><path d="M85 46 C97 40 96 24 84 22 C74 20 72 12 62 12" stroke="#6e2c16" stroke-width="8.0"/><circle cx="41" cy="24" r="10.4" fill="#6e2c16"/><path d="M32 17 L34 7 L38 13 L41 5 L44 13 L48 7 L50 17 Z" fill="#6e2c16" stroke="#6e2c16" stroke-width="3.4"/><path d="M41 47 L80 49" stroke="#dcb63f" stroke-width="14"/><path d="M41 30 L42 46" stroke="#dcb63f" stroke-width="13"/><path d="M37 45 C27 48 20 38 17 19" stroke="#dcb63f" stroke-width="5.5"/><path d="M38 55 L22 80 L14 84" stroke="#dcb63f" stroke-width="5.5"/><path d="M47 54 L50 84 L43 86" stroke="#dcb63f" stroke-width="5.5"/><path d="M78 52 L88 68 L85 85 L78 87" stroke="#dcb63f" stroke-width="6"/><path d="M70 55 L68 85 L61 87" stroke="#dcb63f" stroke-width="5.5"/><path d="M85 46 C97 40 96 24 84 22 C74 20 72 12 62 12" stroke="#dcb63f" stroke-width="4.6"/><circle cx="41" cy="24" r="8.6" fill="#dcb63f"/><path d="M32 17 L34 7 L38 13 L41 5 L44 13 L48 7 L50 17 Z" fill="#e8cf6a"/><circle cx="37.6" cy="23" r="1.7" fill="#5a3a12"/><circle cx="44.4" cy="23" r="1.7" fill="#5a3a12"/></g>
<g transform="translate(225.80 269.42) scale(0.4700) translate(-50 -50)" stroke-linecap="round" stroke-linejoin="round" fill="none"><path d="M41 47 L80 49" stroke="#6e2c16" stroke-width="17.4"/><path d="M41 30 L42 46" stroke="#6e2c16" stroke-width="16.4"/><path d="M37 45 C27 48 20 38 17 19" stroke="#6e2c16" stroke-width="8.9"/><path d="M38 55 L22 80 L14 84" stroke="#6e2c16" stroke-width="8.9"/><path d="M47 54 L50 84 L43 86" stroke="#6e2c16" stroke-width="8.9"/><path d="M78 52 L88 68 L85 85 L78 87" stroke="#6e2c16" stroke-width="9.4"/><path d="M70 55 L68 85 L61 87" stroke="#6e2c16" stroke-width="8.9"/><path d="M85 46 C97 40 96 24 84 22 C74 20 72 12 62 12" stroke="#6e2c16" stroke-width="8.0"/><circle cx="41" cy="24" r="10.4" fill="#6e2c16"/><path d="M32 17 L34 7 L38 13 L41 5 L44 13 L48 7 L50 17 Z" fill="#6e2c16" stroke="#6e2c16" stroke-width="3.4"/><path d="M41 47 L80 49" stroke="#dcb63f" stroke-width="14"/><path d="M41 30 L42 46" stroke="#dcb63f" stroke-width="13"/><path d="M37 45 C27 48 20 38 17 19" stroke="#dcb63f" stroke-width="5.5"/><path d="M38 55 L22 80 L14 84" stroke="#dcb63f" stroke-width="5.5"/><path d="M47 54 L50 84 L43 86" stroke="#dcb63f" stroke-width="5.5"/><path d="M78 52 L88 68 L85 85 L78 87" stroke="#dcb63f" stroke-width="6"/><path d="M70 55 L68 85 L61 87" stroke="#dcb63f" stroke-width="5.5"/><path d="M85 46 C97 40 96 24 84 22 C74 20 72 12 62 12" stroke="#dcb63f" stroke-width="4.6"/><circle cx="41" cy="24" r="8.6" fill="#dcb63f"/><path d="M32 17 L34 7 L38 13 L41 5 L44 13 L48 7 L50 17 Z" fill="#e8cf6a"/><circle cx="37.6" cy="23" r="1.7" fill="#5a3a12"/><circle cx="44.4" cy="23" r="1.7" fill="#5a3a12"/></g>
<g transform="translate(307.68 269.42) scale(0.4700) translate(-50 -50)" stroke-linecap="round" stroke-linejoin="round" fill="none"><path d="M41 47 L80 49" stroke="#6e2c16" stroke-width="17.4"/><path d="M41 30 L42 46" stroke="#6e2c16" stroke-width="16.4"/><path d="M37 45 C27 48 20 38 17 19" stroke="#6e2c16" stroke-width="8.9"/><path d="M38 55 L22 80 L14 84" stroke="#6e2c16" stroke-width="8.9"/><path d="M47 54 L50 84 L43 86" stroke="#6e2c16" stroke-width="8.9"/><path d="M78 52 L88 68 L85 85 L78 87" stroke="#6e2c16" stroke-width="9.4"/><path d="M70 55 L68 85 L61 87" stroke="#6e2c16" stroke-width="8.9"/><path d="M85 46 C97 40 96 24 84 22 C74 20 72 12 62 12" stroke="#6e2c16" stroke-width="8.0"/><circle cx="41" cy="24" r="10.4" fill="#6e2c16"/><path d="M32 17 L34 7 L38 13 L41 5 L44 13 L48 7 L50 17 Z" fill="#6e2c16" stroke="#6e2c16" stroke-width="3.4"/><path d="M41 47 L80 49" stroke="#dcb63f" stroke-width="14"/><path d="M41 30 L42 46" stroke="#dcb63f" stroke-width="13"/><path d="M37 45 C27 48 20 38 17 19" stroke="#dcb63f" stroke-width="5.5"/><path d="M38 55 L22 80 L14 84" stroke="#dcb63f" stroke-width="5.5"/><path d="M47 54 L50 84 L43 86" stroke="#dcb63f" stroke-width="5.5"/><path d="M78 52 L88 68 L85 85 L78 87" stroke="#dcb63f" stroke-width="6"/><path d="M70 55 L68 85 L61 87" stroke="#dcb63f" stroke-width="5.5"/><path d="M85 46 C97 40 96 24 84 22 C74 20 72 12 62 12" stroke="#dcb63f" stroke-width="4.6"/><circle cx="41" cy="24" r="8.6" fill="#dcb63f"/><path d="M32 17 L34 7 L38 13 L41 5 L44 13 L48 7 L50 17 Z" fill="#e8cf6a"/><circle cx="37.6" cy="23" r="1.7" fill="#5a3a12"/><circle cx="44.4" cy="23" r="1.7" fill="#5a3a12"/></g>
</g>
<path d="M256.96 159.11l1.1 6.8 2.2 3-1.8 2.2-1.5-1.3-1.5 1.3-1.8-2.2 2.2-3z" fill="#1d1a22" stroke="#1d1a22" stroke-width="0.7" stroke-linejoin="round"/>
<path d="M275.36 159.11l1.1 6.8 2.2 3-1.8 2.2-1.5-1.3-1.5 1.3-1.8-2.2 2.2-3z" fill="#1d1a22" stroke="#1d1a22" stroke-width="0.7" stroke-linejoin="round"/>
<path d="M266.38 175.05l1.1 6.8 2.2 3-1.8 2.2-1.5-1.3-1.5 1.3-1.8-2.2 2.2-3z" fill="#1d1a22" stroke="#1d1a22" stroke-width="0.7" stroke-linejoin="round"/>
<path d="M256.96 192.44l1.1 6.8 2.2 3-1.8 2.2-1.5-1.3-1.5 1.3-1.8-2.2 2.2-3z" fill="#1d1a22" stroke="#1d1a22" stroke-width="0.7" stroke-linejoin="round"/>
<path d="M275.36 192.44l1.1 6.8 2.2 3-1.8 2.2-1.5-1.3-1.5 1.3-1.8-2.2 2.2-3z" fill="#1d1a22" stroke="#1d1a22" stroke-width="0.7" stroke-linejoin="round"/>
<path d="M266.38 248.96l1.1 6.8 2.2 3-1.8 2.2-1.5-1.3-1.5 1.3-1.8-2.2 2.2-3z" fill="#1d1a22" stroke="#1d1a22" stroke-width="0.7" stroke-linejoin="round"/>
<path d="M256.96 266.35l1.1 6.8 2.2 3-1.8 2.2-1.5-1.3-1.5 1.3-1.8-2.2 2.2-3z" fill="#1d1a22" stroke="#1d1a22" stroke-width="0.7" stroke-linejoin="round"/>
<path d="M275.36 266.35l1.1 6.8 2.2 3-1.8 2.2-1.5-1.3-1.5 1.3-1.8-2.2 2.2-3z" fill="#1d1a22" stroke="#1d1a22" stroke-width="0.7" stroke-linejoin="round"/>
<path d="M266.38 281.57l1.1 6.8 2.2 3-1.8 2.2-1.5-1.3-1.5 1.3-1.8-2.2 2.2-3z" fill="#1d1a22" stroke="#1d1a22" stroke-width="0.7" stroke-linejoin="round"/>
<path d="M256.96 298.24l1.1 6.8 2.2 3-1.8 2.2-1.5-1.3-1.5 1.3-1.8-2.2 2.2-3z" fill="#1d1a22" stroke="#1d1a22" stroke-width="0.7" stroke-linejoin="round"/>
<path d="M275.36 298.24l1.1 6.8 2.2 3-1.8 2.2-1.5-1.3-1.5 1.3-1.8-2.2 2.2-3z" fill="#1d1a22" stroke="#1d1a22" stroke-width="0.7" stroke-linejoin="round"/>
<path d="M202.61 215.19l1.1 6.8 2.2 3-1.8 2.2-1.5-1.3-1.5 1.3-1.8-2.2 2.2-3z" fill="#1d1a22" stroke="#1d1a22" stroke-width="0.7" stroke-linejoin="round"/>
<path d="M221.45 215.19l1.1 6.8 2.2 3-1.8 2.2-1.5-1.3-1.5 1.3-1.8-2.2 2.2-3z" fill="#1d1a22" stroke="#1d1a22" stroke-width="0.7" stroke-linejoin="round"/>
<path d="M240.58 215.19l1.1 6.8 2.2 3-1.8 2.2-1.5-1.3-1.5 1.3-1.8-2.2 2.2-3z" fill="#1d1a22" stroke="#1d1a22" stroke-width="0.7" stroke-linejoin="round"/>
<path d="M212.03 225.77l1.1 6.8 2.2 3-1.8 2.2-1.5-1.3-1.5 1.3-1.8-2.2 2.2-3z" fill="#1d1a22" stroke="#1d1a22" stroke-width="0.7" stroke-linejoin="round"/>
<path d="M230.87 225.77l1.1 6.8 2.2 3-1.8 2.2-1.5-1.3-1.5 1.3-1.8-2.2 2.2-3z" fill="#1d1a22" stroke="#1d1a22" stroke-width="0.7" stroke-linejoin="round"/>
<path d="M291.74 215.19l1.1 6.8 2.2 3-1.8 2.2-1.5-1.3-1.5 1.3-1.8-2.2 2.2-3z" fill="#1d1a22" stroke="#1d1a22" stroke-width="0.7" stroke-linejoin="round"/>
<path d="M310.58 215.19l1.1 6.8 2.2 3-1.8 2.2-1.5-1.3-1.5 1.3-1.8-2.2 2.2-3z" fill="#1d1a22" stroke="#1d1a22" stroke-width="0.7" stroke-linejoin="round"/>
<path d="M329.42 215.19l1.1 6.8 2.2 3-1.8 2.2-1.5-1.3-1.5 1.3-1.8-2.2 2.2-3z" fill="#1d1a22" stroke="#1d1a22" stroke-width="0.7" stroke-linejoin="round"/>
<path d="M301.16 225.77l1.1 6.8 2.2 3-1.8 2.2-1.5-1.3-1.5 1.3-1.8-2.2 2.2-3z" fill="#1d1a22" stroke="#1d1a22" stroke-width="0.7" stroke-linejoin="round"/>
<path d="M320.72 225.77l1.1 6.8 2.2 3-1.8 2.2-1.5-1.3-1.5 1.3-1.8-2.2 2.2-3z" fill="#1d1a22" stroke="#1d1a22" stroke-width="0.7" stroke-linejoin="round"/>
<rect x="248.70" y="214.78" width="34.35" height="23.62" fill="#cf4335" stroke="#2d1a1e" stroke-width="2"/>
<circle cx="255.51" cy="216.96" r="1.7" fill="#dcb63f"/>
<circle cx="260.58" cy="216.96" r="1.7" fill="#dcb63f"/>
<circle cx="265.94" cy="216.96" r="1.7" fill="#dcb63f"/>
<circle cx="271.30" cy="216.96" r="1.7" fill="#dcb63f"/>
<circle cx="276.52" cy="216.96" r="1.7" fill="#dcb63f"/>
<ellipse cx="265.94" cy="227.39" rx="7" ry="3.2" fill="#dcb63f"/>
<rect x="253.92" y="240.49" width="5.2" height="7" fill="#dcb63f" stroke="#2d1a1e" stroke-width="1"/>
<rect x="273.20" y="240.49" width="5.2" height="7" fill="#dcb63f" stroke="#2d1a1e" stroke-width="1"/>
<text font-weight="bold" fill="#19171c" stroke="#fefefe" stroke-width="0.4"><tspan x="369.5" y="219.3" font-size="93.8" textLength="433.3" lengthAdjust="spacingAndGlyphs">Cambridge</tspan> <tspan x="827.3" y="219.3" font-size="93.8" textLength="476.0" lengthAdjust="spacingAndGlyphs">Assessment</tspan></text>
<text stroke="#19171c" stroke-width="1.5" x="368.4" y="316.3" font-size="93.8" textLength="270.7" lengthAdjust="spacingAndGlyphs" font-weight="normal" fill="#19171c">English</text>
</g>
</g>
</svg>
</body>
</html>
